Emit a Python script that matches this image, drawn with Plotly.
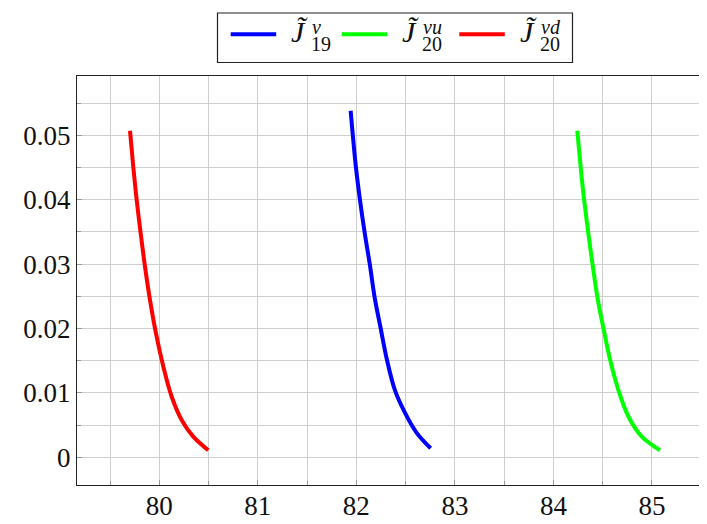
import plotly.graph_objects as go

# ---- data ----
x_j19 = [81.942, 81.995, 82.038, 82.086, 82.135, 82.186, 82.247, 82.311, 82.392, 82.494, 82.612, 82.754]
y_j19 = [0.0538, 0.0451, 0.0398, 0.0347, 0.0301, 0.0248, 0.0200, 0.0151, 0.0104, 0.0069, 0.0038, 0.0014]

x_j20u = [84.242, 84.276, 84.312, 84.354, 84.400, 84.451, 84.508, 84.576, 84.660, 84.762, 84.897, 85.081]
y_j20u = [0.0507, 0.0451, 0.0399, 0.0348, 0.0296, 0.0244, 0.0200, 0.0151, 0.0104, 0.0063, 0.0032, 0.0011]

x_j20d = [79.703, 79.736, 79.771, 79.811, 79.855, 79.906, 79.967, 80.041, 80.126, 80.227, 80.345, 80.497]
y_j20d = [0.0507, 0.0451, 0.0399, 0.0348, 0.0296, 0.0244, 0.0192, 0.0141, 0.0094, 0.0058, 0.0032, 0.0011]

series_names = ["J̃19ν", "J̃20νu", "J̃20νd"]
sup_labels = ["ν", "νu", "νd"]
sub_labels = ["19", "20", "20"]
colors = ["#0000ff", "#00ff00", "#ff0000"]

# the page body has an 8 px margin, so the figure is 8 px smaller on each axis
OFF = 8
W, H = 707 - OFF, 524 - OFF
ML, MR, MT, MB = 77 - OFF, 0, 76 - OFF, 39
PW, PH = W - ML - MR, H - MT - MB

def px(x):  # page pixel -> paper
    return (x - OFF - ML) / PW

def py(y):
    return (H - MB - (y - OFF)) / PH

FONT = "Liberation Serif, Times New Roman, DejaVu Serif, serif"

fig = go.Figure()
for xs, ys, name, c in zip([x_j19, x_j20u, x_j20d], [y_j19, y_j20u, y_j20d], series_names, colors):
    fig.add_trace(go.Scatter(x=xs, y=ys, mode="lines", name=name,
                             line=dict(color=c, width=4, shape="spline", smoothing=1.0),
                             showlegend=False))

grid = "#cfcfcf"
fig.update_xaxes(range=[79.165, 79.165 + PW / 98.54], dtick=1, tick0=80,
                 showgrid=True, gridcolor=grid, gridwidth=1,
                 minor=dict(dtick=0.5, tick0=80, showgrid=True, gridcolor=grid, gridwidth=1,
                            ticks="inside", ticklen=4, tickcolor="#999"),
                 ticks="inside", ticklen=5, tickcolor="#999",
                 showline=True, linecolor="#222", linewidth=1.3, mirror=True,
                 zeroline=False, automargin=False,
                 tickfont=dict(family=FONT, size=27, color="#111"),
                 ticklabelstandoff=-4)
fig.update_yaxes(range=[-0.0043, 0.0592], dtick=0.01, tick0=0,
                 showgrid=True, gridcolor=grid, gridwidth=1,
                 minor=dict(dtick=0.005, tick0=0, showgrid=True, gridcolor=grid, gridwidth=1,
                            ticks="inside", ticklen=4, tickcolor="#999"),
                 ticks="inside", ticklen=5, tickcolor="#999",
                 showline=True, linecolor="#222", linewidth=1.3, mirror=False,
                 zeroline=False, automargin=False,
                 tickfont=dict(family=FONT, size=27, color="#111"),
                 ticklabelstandoff=0)

# ---- custom legend (stacked super/subscripts like the LaTeX legend) ----
shapes = [dict(type="rect", xref="paper", yref="paper",
               x0=px(217.5), x1=px(572.5), y0=py(13), y1=py(62.5),
               line=dict(color="#222", width=1.2), fillcolor="white", layer="above")]
annotations = []
line_x0 = [230.7, 341.7, 459.3]
for x0, c, sup, sub in zip(line_x0, colors, sup_labels, sub_labels):
    shapes.append(dict(type="line", xref="paper", yref="paper",
                       x0=px(x0), x1=px(x0 + 45.5), y0=py(34.3), y1=py(34.3),
                       line=dict(color=c, width=4), layer="above"))
    jx = x0 + 45.5 + 13
    annotations.append(dict(xref="paper", yref="paper", x=px(jx), y=py(32),
                            text="<i>J̃</i>", showarrow=False, xanchor="left", yanchor="middle",
                            font=dict(family=FONT, size=30, color="#111")))
    annotations.append(dict(xref="paper", yref="paper", x=px(jx + 21), y=py(27.5),
                            text="<i>" + sup + "</i>", showarrow=False, xanchor="left", yanchor="middle",
                            font=dict(family=FONT, size=20, color="#111")))
    annotations.append(dict(xref="paper", yref="paper", x=px(jx + 20), y=py(44),
                            text=sub, showarrow=False, xanchor="left", yanchor="middle",
                            font=dict(family=FONT, size=20, color="#111")))

fig.update_layout(width=W, height=H, autosize=False,
                  margin=dict(l=ML, r=MR, t=MT, b=MB, pad=0),
                  plot_bgcolor="white", paper_bgcolor="white",
                  shapes=shapes, annotations=annotations, showlegend=False)

fig.write_html("out.html")
